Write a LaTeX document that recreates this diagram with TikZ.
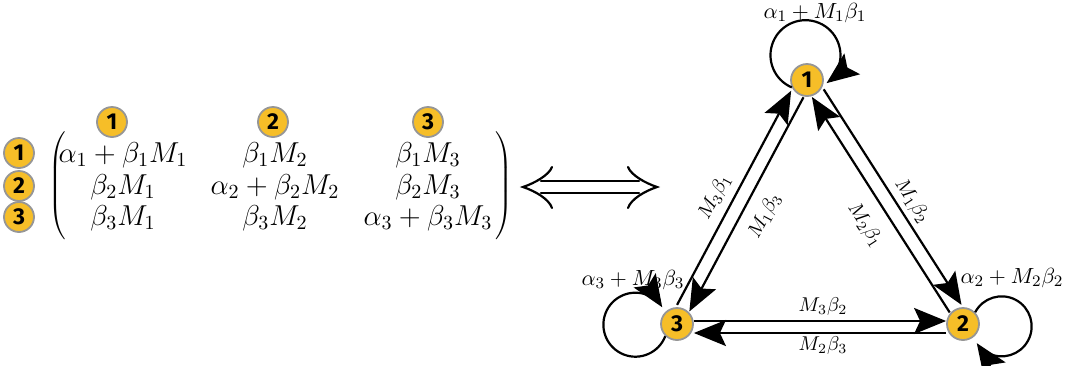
\documentclass[tikz,border=0pt]{standalone}
\usepackage{fontspec}
\newfontfamily\digfont{Fira Sans}
\usetikzlibrary{arrows.meta}
\definecolor{nodefill}{RGB}{246,190,40}
\definecolor{nodeedge}{RGB}{150,150,150}
\begin{document}
\begin{tikzpicture}[x=0.5pt,y=-0.5pt,
  num/.style={circle,fill=nodefill,draw=nodeedge,line width=0.9pt,minimum size=16pt,inner sep=0pt,font=\digfont\bfseries\fontsize{11.5}{12}\selectfont},
  mnum/.style={num,minimum size=15pt},
  conn/.style={line width=1.1pt,-{Stealth[length=16pt,width=13pt,inset=3pt]}},
  lbl/.style={inner sep=1pt,font=\fontsize{10}{12}\selectfont},
  llbl/.style={inner sep=1pt,font=\fontsize{10.95}{13}\selectfont},
  ent/.style={inner sep=0pt,font=\fontsize{14.4}{17}\selectfont},
  dbl/.style={line width=1.1pt,line cap=round}
]
\useasboundingbox (0,0) rectangle (1066,365);

% matrix
\node[mnum] (c1) at (112,122) {1};
\node[mnum] (c2) at (273,122) {2};
\node[mnum] (c3) at (428,122) {3};
\node[mnum] (r1) at (19,153) {1};
\node[mnum] (r2) at (19,186) {2};
\node[mnum] (r3) at (19,217) {3};
\node[ent] (lp) at (58,187) {$\left(\vrule height 25pt depth 25pt width 0pt\right.$};
\node[ent] (rp) at (503,187) {$\left.\vrule height 25pt depth 25pt width 0pt\right)$};
\node[ent] (m11) at (123,155) {$\alpha_1+\beta_1M_1$};
\node[ent] (m12) at (275,155) {$\beta_1M_2$};
\node[ent] (m13) at (428,155) {$\beta_1M_3$};
\node[ent] (m21) at (123,187) {$\beta_2M_1$};
\node[ent] (m22) at (275,187) {$\alpha_2+\beta_2M_2$};
\node[ent] (m23) at (428,187) {$\beta_2M_3$};
\node[ent] (m31) at (123,218) {$\beta_3M_1$};
\node[ent] (m32) at (275,218) {$\beta_3M_2$};
\node[ent] (m33) at (428,218) {$\alpha_3+\beta_3M_3$};

% double arrow
\draw[dbl] (541,181) -- (639,181) (541,193) -- (639,193);
\draw[dbl] (552,167) .. controls (549,175) and (535,183) .. (523,187)
                     .. controls (535,191) and (549,199) .. (552,208);
\draw[dbl] (628,167) .. controls (631,175) and (645,183) .. (657,187)
                     .. controls (645,191) and (631,199) .. (628,208);

% graph
\node[num] (n1) at (807,80) {1};
\node[num] (n2) at (963,324) {2};
\node[num] (n3) at (677,324) {3};

\draw[conn,transform canvas={shift={(-7.9,-4.2)}}] (n3) -- (n1);
\draw[conn,transform canvas={shift={(4.4,2.4)}}] (n1) -- (n3);
\draw[conn,transform canvas={shift={(7.6,-4.9)}}] (n1) -- (n2);
\draw[conn,transform canvas={shift={(-4.2,2.7)}}] (n2) -- (n1);
\draw[conn,transform canvas={shift={(0,-3)}}] (n3) -- (n2);
\draw[conn,transform canvas={shift={(0,9)}}] (n2) -- (n3);

\draw[conn] (n1.206) arc[start angle=247,end angle=-53,radius=17.5pt];
\draw[conn] (n3.226) arc[start angle=-21,end angle=-327,radius=16pt];
\draw[conn] (n2.44) arc[start angle=152,end angle=-146,radius=15pt];

\node[lbl,rotate=62] (l31) at (715,197) {$M_3\beta_1$};
\node[lbl,rotate=62] (l13) at (765,216) {$M_1\beta_3$};
\node[lbl,rotate=-57] (l12) at (912,201) {$M_1\beta_2$};
\node[lbl,rotate=-57] (l21) at (865,225) {$M_2\beta_1$};
\node[lbl] (l32) at (823,306) {$M_3\beta_2$};
\node[lbl] (l23) at (823,345) {$M_2\beta_3$};
\node[llbl] (ll1) at (815,13) {$\alpha_1+M_1\beta_1$};
\node[llbl] (ll3) at (633,280) {$\alpha_3+M_3\beta_3$};
\node[llbl] (ll2) at (1012,278) {$\alpha_2+M_2\beta_2$};
\end{tikzpicture}
\end{document}
